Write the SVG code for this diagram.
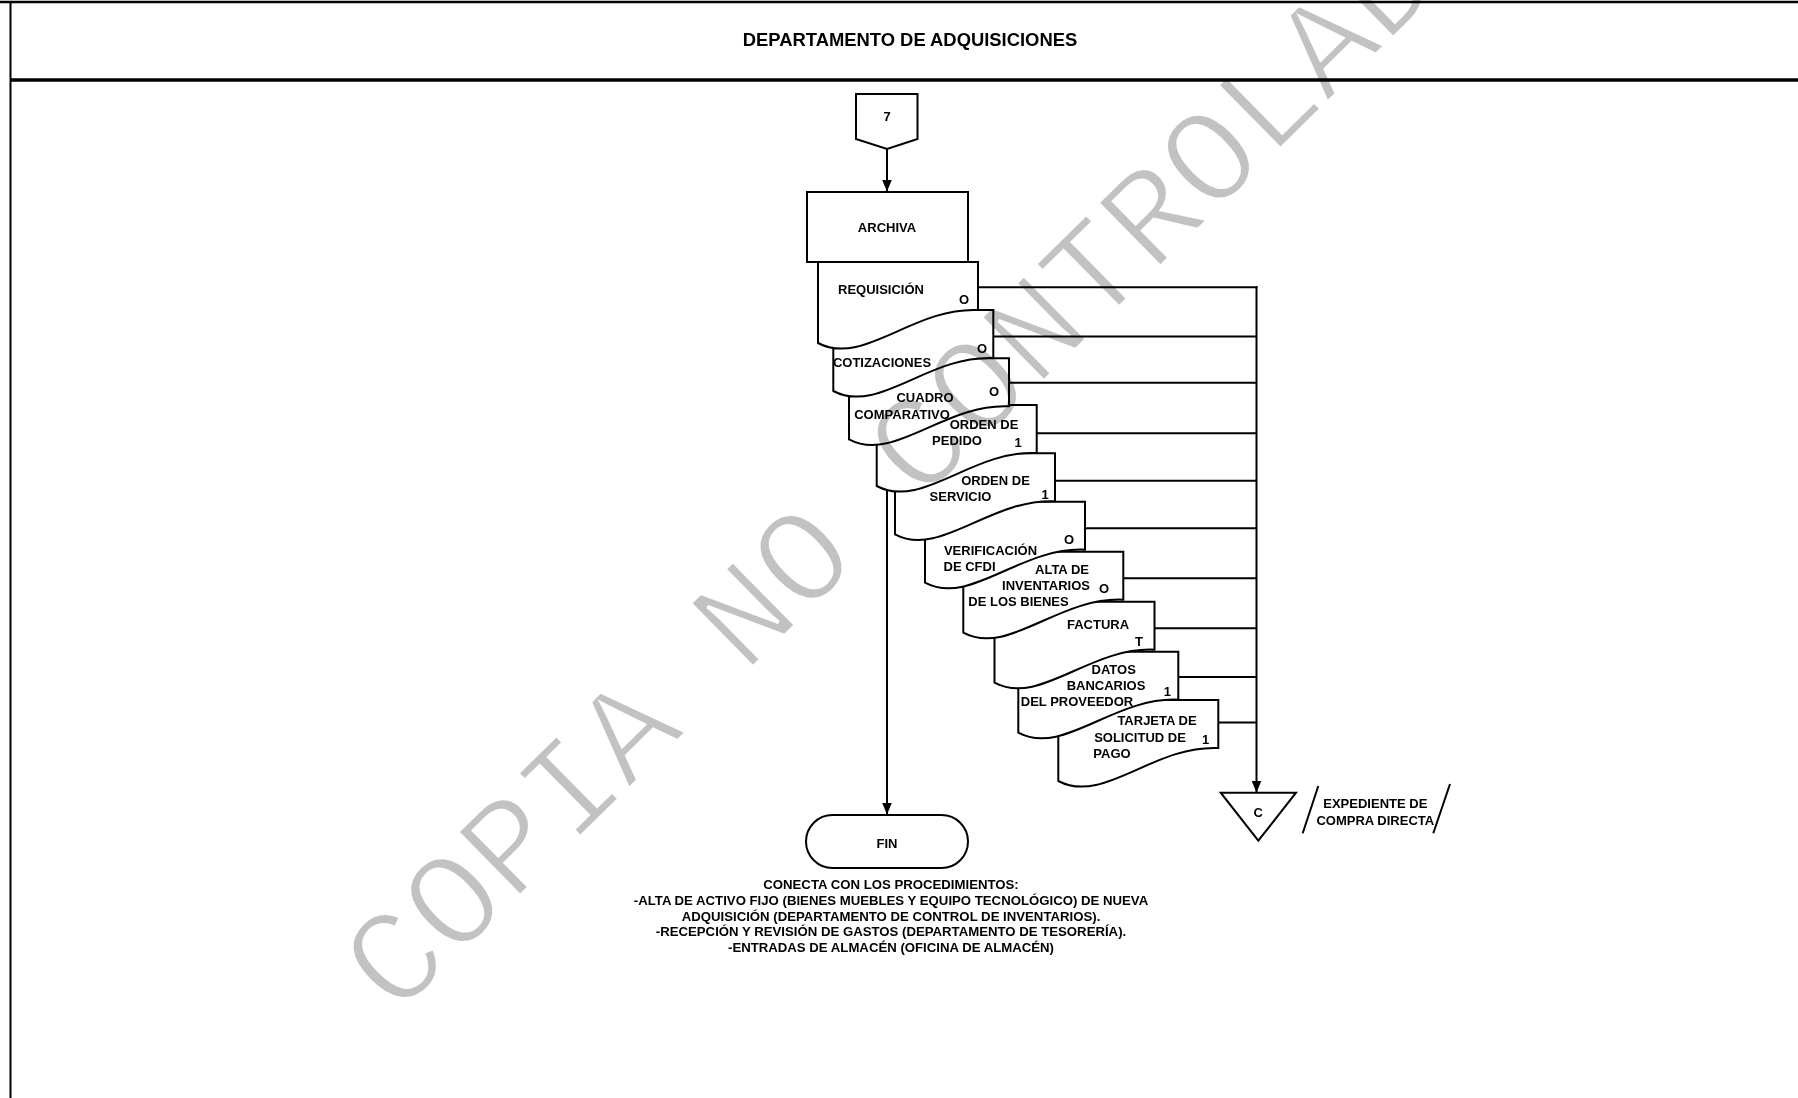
<svg xmlns="http://www.w3.org/2000/svg" xmlns:xlink="http://www.w3.org/1999/xlink" width="1798" height="1098" viewBox="0 0 1798 1098">
  <style>
    .ln { fill: none; stroke: #000; stroke-width: 2; }
    .shape { fill: #fff; stroke: #000; stroke-width: 2; stroke-linejoin: miter; }
    .t { font-family: "Liberation Sans", Arial, sans-serif; font-weight: bold; font-size: 13px; fill: #000; text-anchor: middle; }
    .hdr { font-size: 18.4px; }
    .note { font-size: 13.2px; }
    .wm { font-family: "Liberation Mono", "Courier New", monospace; font-size: 136px; fill: #c2c2c2; stroke: #fff; stroke-width: 3.5; mix-blend-mode: multiply; }
  </style>
  <defs>
    <!-- flowchart "document" symbol: 160 wide, wavy bottom edge -->
    <path id="doc" d="M0,0 H160 V48 C95,45 45,105 0,81 Z"/>
    <marker id="arrow" markerUnits="userSpaceOnUse" viewBox="0 0 12 10" refX="12" refY="5" markerWidth="12" markerHeight="10" orient="auto">
      <path d="M0,0 L12,5 L0,10 Z" fill="#000"/>
    </marker>
  </defs>

  <rect width="1798" height="1098" fill="#fff"/>

  <!-- page frame and header band -->
  <g id="frame">
    <line x1="0" y1="2" x2="1798" y2="2" stroke="#000" stroke-width="2.5"/>
    <line x1="10.5" y1="2" x2="10.5" y2="1098" stroke="#000" stroke-width="2"/>
    <line x1="10" y1="80" x2="1798" y2="80" stroke="#000" stroke-width="3.5"/>
    <text class="t hdr" x="910" y="46">DEPARTAMENTO DE ADQUISICIONES</text>
  </g>

  <!-- connectors -->
  <g id="connectors">
    <line class="ln" x1="887" y1="149" x2="887" y2="191.5" marker-end="url(#arrow)"/>
    <line class="ln" x1="887" y1="262" x2="887" y2="814.5" marker-end="url(#arrow)"/>
    <line class="ln" x1="1256.5" y1="286.3" x2="1256.5" y2="792.5" marker-end="url(#arrow)"/>
    <line class="ln" x1="978" y1="287.3" x2="1257.5" y2="287.3"/>
    <line class="ln" x1="993" y1="336.5" x2="1256.5" y2="336.5"/>
    <line class="ln" x1="1009" y1="382.7" x2="1256.5" y2="382.7"/>
    <line class="ln" x1="1036" y1="433.3" x2="1256.5" y2="433.3"/>
    <line class="ln" x1="1055" y1="480.7" x2="1256.5" y2="480.7"/>
    <line class="ln" x1="1085" y1="528.3" x2="1256.5" y2="528.3"/>
    <line class="ln" x1="1123" y1="578.3" x2="1256.5" y2="578.3"/>
    <line class="ln" x1="1154" y1="628.3" x2="1256.5" y2="628.3"/>
    <line class="ln" x1="1178" y1="677" x2="1256.5" y2="677"/>
    <line class="ln" x1="1218" y1="722.5" x2="1256.5" y2="722.5"/>
  </g>

  <!-- off-page connector 7 -->
  <g id="conector-7">
    <path class="shape" d="M856,94 H917.5 V139 L887,149 L856,139 Z"/>
    <text class="t" x="887" y="121">7</text>
  </g>

  <!-- process: ARCHIVA -->
  <g id="archiva">
    <rect class="shape" x="807" y="192" width="161" height="70"/>
    <text class="t" x="887" y="231.5">ARCHIVA</text>
  </g>

  <!-- document stack, lowest first so earlier sheets overlap later ones -->
  <g id="doc-tarjeta">
    <use href="#doc" xlink:href="#doc" class="shape" x="1058.3" y="700"/>
    <text class="t" x="1157" y="725.3">TARJETA DE</text>
    <text class="t" x="1140" y="741.9">SOLICITUD DE</text>
    <text class="t" x="1112" y="757.9">PAGO</text>
    <text class="t" x="1205.5" y="744">1</text>
  </g>
  <g id="doc-datos">
    <use href="#doc" xlink:href="#doc" class="shape" x="1018.3" y="651.7"/>
    <text class="t" x="1113.7" y="674.1">DATOS</text>
    <text class="t" x="1106" y="689.9">BANCARIOS</text>
    <text class="t" x="1077" y="706.4">DEL PROVEEDOR</text>
    <text class="t" x="1167.3" y="695.6">1</text>
  </g>
  <g id="doc-factura">
    <use href="#doc" xlink:href="#doc" class="shape" x="994.5" y="601.7"/>
    <text class="t" x="1098" y="629.1">FACTURA</text>
    <text class="t" x="1139" y="645.6">T</text>
  </g>
  <g id="doc-alta">
    <use href="#doc" xlink:href="#doc" class="shape" x="963.3" y="551.7"/>
    <text class="t" x="1062" y="573.6">ALTA DE</text>
    <text class="t" x="1046" y="589.6">INVENTARIOS</text>
    <text class="t" x="1018.5" y="605.6">DE LOS BIENES</text>
    <text class="t" x="1104" y="592.9">O</text>
  </g>
  <g id="doc-verificacion">
    <use href="#doc" xlink:href="#doc" class="shape" x="925" y="501.7"/>
    <text class="t" x="990.5" y="555.2">VERIFICACIÓN</text>
    <text class="t" x="969.5" y="571.2">DE CFDI</text>
    <text class="t" x="1069" y="543.6">O</text>
  </g>
  <g id="doc-orden-servicio">
    <use href="#doc" xlink:href="#doc" class="shape" x="895" y="453.3"/>
    <text class="t" x="995.5" y="484.6">ORDEN DE</text>
    <text class="t" x="960.5" y="500.6">SERVICIO</text>
    <text class="t" x="1045" y="498.6">1</text>
  </g>
  <g id="doc-orden-pedido">
    <use href="#doc" xlink:href="#doc" class="shape" x="876.7" y="405"/>
    <text class="t" x="984" y="428.6">ORDEN DE</text>
    <text class="t" x="957" y="444.6">PEDIDO</text>
    <text class="t" x="1018" y="446.6">1</text>
  </g>
  <g id="doc-cuadro">
    <use href="#doc" xlink:href="#doc" class="shape" x="849" y="358.3"/>
    <text class="t" x="925" y="401.6">CUADRO</text>
    <text class="t" x="902" y="418.6">COMPARATIVO</text>
    <text class="t" x="994" y="395.6">O</text>
  </g>
  <g id="doc-cotizaciones">
    <use href="#doc" xlink:href="#doc" class="shape" x="833.3" y="310"/>
    <text class="t" x="882" y="367">COTIZACIONES</text>
    <text class="t" x="982" y="352.6">O</text>
  </g>
  <g id="doc-requisicion">
    <use href="#doc" xlink:href="#doc" class="shape" x="818" y="262"/>
    <text class="t" x="881" y="293.9">REQUISICIÓN</text>
    <text class="t" x="964" y="303.6">O</text>
  </g>

  <!-- terminator -->
  <g id="fin">
    <rect class="shape" x="806" y="815" width="162" height="53" rx="26.5" ry="26.5"/>
    <text class="t" x="887" y="847.5">FIN</text>
  </g>

  <!-- closing note -->
  <g id="nota">
    <text class="t note" x="891" y="889">CONECTA CON LOS PROCEDIMIENTOS:</text>
    <text class="t note" x="891" y="904.8">-ALTA DE ACTIVO FIJO (BIENES MUEBLES Y EQUIPO TECNOLÓGICO) DE NUEVA</text>
    <text class="t note" x="891" y="920.6">ADQUISICIÓN (DEPARTAMENTO DE CONTROL DE INVENTARIOS).</text>
    <text class="t note" x="891" y="936.4">-RECEPCIÓN Y REVISIÓN DE GASTOS (DEPARTAMENTO DE TESORERÍA).</text>
    <text class="t note" x="891" y="952">-ENTRADAS DE ALMACÉN (OFICINA DE ALMACÉN)</text>
  </g>

  <!-- file: expediente de compra directa -->
  <g id="archivo-c">
    <path class="shape" d="M1220.7,792.7 H1296 L1258.3,840.7 Z"/>
    <text class="t" x="1258.3" y="817">C</text>
  </g>
  <g id="expediente">
    <line class="ln" x1="1318.3" y1="786" x2="1302.7" y2="833.3"/>
    <line class="ln" x1="1450" y1="784" x2="1433.3" y2="833.3"/>
    <text class="t" x="1375.3" y="807.8">EXPEDIENTE DE</text>
    <text class="t" x="1375.3" y="824.5">COMPRA DIRECTA</text>
  </g>

  <!-- watermark -->
  <text class="wm" transform="translate(396 1018) rotate(-44.5)">COPIA NO CONTROLADA</text>
</svg>
